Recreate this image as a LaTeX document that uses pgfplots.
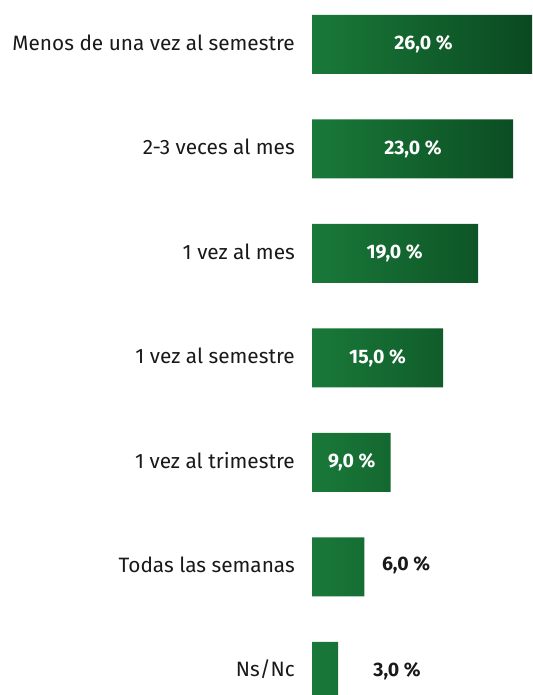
\documentclass[border=0pt]{standalone}
\usepackage{pgfplots}
\pgfplotsset{compat=1.18}
\usepackage{fontspec}
\setmainfont{Fira Sans}
\definecolor{barL}{RGB}{25,121,57}
\definecolor{barM}{RGB}{22,110,51}
\definecolor{barR}{RGB}{10,72,32}
\begin{document}
\begin{tikzpicture}[x=1pt,y=1pt]
\begin{scope}
\clip (0,0) rectangle (532,695);
\begin{axis}[
  at={(312pt,-28.75pt)}, anchor=south west,
  scale only axis, width=220pt, height=731.5pt,
  xmin=0, xmax=25.17, ymin=-0.5, ymax=6.5,
  enlargelimits=false,
  xbar, bar width=59pt,
  axis line style={draw=none},
  xtick=\empty,
  ytick={0,1,2,3,4,5,6},
  yticklabels={Ns/Nc, Todas las semanas, 1 vez al trimestre, 1 vez al semestre, 1 vez al mes, 2-3 veces al mes, Menos de una vez al semestre},
  major tick length=0pt,
  yticklabel style={font=\fontsize{20.8}{22}\selectfont, text=black!90, inner sep=0pt, xshift=-17pt, yshift=2pt},
  clip=true,
]
\addplot[xbar, draw=none, left color=barL, middle color=barM, right color=barR]
  coordinates {(26,6) (23,5) (19,4) (15,3) (9,2) (6,1) (3,0)};
\addplot[draw=none, mark=none, xbar=0pt, bar width=0pt, forget plot,
  nodes near coords, point meta=explicit symbolic,
  nodes near coords align=center,
  every node near coord/.append style={font=\bfseries\fontsize{19.5}{20}\selectfont, text=white, anchor=center, yshift=-2pt}]
  coordinates {(12.75,6) [26,0 \%] (11.55,5) [23,0 \%] (9.45,4) [19,0 \%] (7.5,3) [15,0 \%] (4.55,2) [9,0 \%]};
\addplot[draw=none, mark=none, xbar=0pt, bar width=0pt, forget plot,
  nodes near coords, point meta=explicit symbolic,
  nodes near coords align=center,
  every node near coord/.append style={font=\bfseries\fontsize{19.5}{20}\selectfont, text=black!90, anchor=center, yshift=-2pt}]
  coordinates {(10.76,1.02) [6,0 \%] (9.73,0) [3,0 \%]};
\end{axis}
\end{scope}
\pgfresetboundingbox
\useasboundingbox (0,0) rectangle (532,695);
\end{tikzpicture}
\end{document}
